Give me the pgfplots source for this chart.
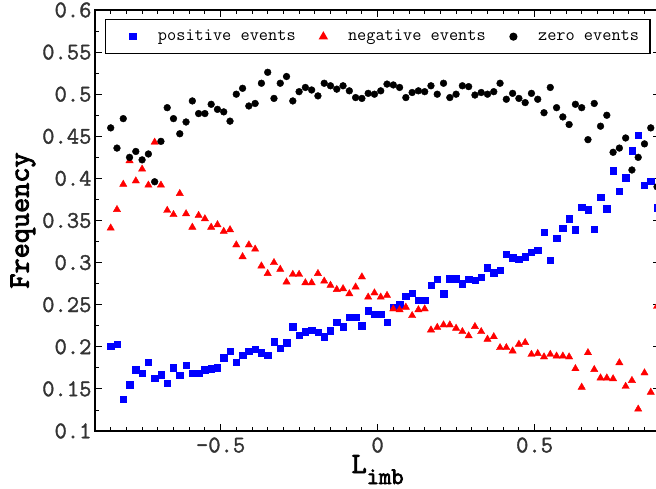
\documentclass[border=0pt]{standalone}
\usepackage{fontspec}
\setmainfont{Latin Modern Mono}
\newfontfamily\lmttbold{Latin Modern Mono}[FakeBold=3]
\newfontfamily\lmttmed{Latin Modern Mono}[FakeBold=1.5]
\usepackage{pgfplots}
\usepackage{pgfplotstable}
\pgfplotsset{compat=1.18}

\pgfplotstableread{
x     pos    neg    zero
-0.85 0.201 0.341 0.460
-0.83 0.203 0.363 0.436
-0.81 0.138 0.393 0.471
-0.79 0.155 0.421 0.425
-0.77 0.173 0.397 0.432
-0.75 0.169 0.411 0.422
-0.73 0.182 0.392 0.429
-0.71 0.163 0.443 0.396
-0.69 0.167 0.392 0.444
-0.67 0.157 0.362 0.484
-0.65 0.175 0.357 0.471
-0.63 0.166 0.382 0.453
-0.61 0.178 0.358 0.467
-0.59 0.169 0.342 0.492
-0.57 0.169 0.356 0.477
-0.55 0.173 0.352 0.477
-0.53 0.174 0.342 0.488
-0.51 0.175 0.345 0.482
-0.49 0.187 0.337 0.479
-0.47 0.195 0.339 0.468
-0.45 0.182 0.321 0.500
-0.43 0.190 0.307 0.507
-0.41 0.195 0.321 0.486
-0.39 0.197 0.316 0.489
-0.37 0.193 0.296 0.513
-0.35 0.190 0.287 0.526
-0.33 0.206 0.300 0.495
-0.31 0.198 0.292 0.513
-0.29 0.205 0.277 0.521
-0.27 0.224 0.286 0.492
-0.25 0.214 0.286 0.503
-0.23 0.218 0.276 0.508
-0.21 0.220 0.276 0.505
-0.19 0.217 0.287 0.498
-0.17 0.212 0.278 0.513
-0.15 0.219 0.273 0.510
-0.13 0.229 0.268 0.506
-0.11 0.224 0.269 0.510
-0.09 0.235 0.263 0.504
-0.07 0.235 0.271 0.496
-0.05 0.225 0.283 0.495
-0.03 0.243 0.259 0.501
-0.01 0.239 0.264 0.500
0.01 0.239 0.259 0.504
0.03 0.229 0.261 0.512
0.05 0.247 0.245 0.511
0.07 0.250 0.244 0.508
0.09 0.260 0.247 0.496
0.11 0.264 0.237 0.502
0.13 0.255 0.244 0.504
0.15 0.255 0.245 0.503
0.17 0.273 0.220 0.510
0.19 0.280 0.223 0.500
0.21 0.263 0.226 0.513
0.23 0.281 0.226 0.496
0.25 0.281 0.222 0.500
0.27 0.275 0.218 0.510
0.29 0.280 0.213 0.509
0.31 0.279 0.224 0.499
0.33 0.283 0.218 0.502
0.35 0.294 0.209 0.500
0.37 0.288 0.212 0.503
0.39 0.291 0.199 0.513
0.41 0.310 0.199 0.494
0.43 0.306 0.195 0.501
0.45 0.304 0.203 0.495
0.47 0.307 0.205 0.490
0.49 0.312 0.191 0.501
0.51 0.315 0.192 0.494
0.53 0.336 0.188 0.478
0.55 0.303 0.191 0.508
0.57 0.329 0.189 0.484
0.59 0.341 0.189 0.473
0.61 0.352 0.188 0.464
0.63 0.339 0.174 0.488
0.65 0.366 0.152 0.484
0.67 0.363 0.193 0.446
0.69 0.340 0.173 0.489
0.71 0.378 0.163 0.462
0.73 0.364 0.163 0.475
0.75 0.409 0.162 0.431
0.77 0.385 0.181 0.436
0.79 0.401 0.153 0.448
0.81 0.433 0.160 0.410
0.83 0.451 0.126 0.425
0.85 0.392 0.169 0.441
0.87 0.397 0.146 0.460
0.89 0.365 0.248 0.390
}\datatable

\begin{document}
\begin{tikzpicture}
\begin{axis}[
  scale only axis,
  width=565.2bp, height=421bp,
  xmin=-0.9, xmax=0.9, ymin=0.1, ymax=0.6,
  axis line style={line width=1.3bp, black},
  tick align=inside,
  major tick length=7bp, minor tick length=4bp,
  every tick/.style={black, line width=0.9bp},
  xtick={-0.5,0,0.5},
  xticklabels={-0.5,0,0.5},
  minor xtick={-0.85,-0.8,-0.75,-0.7,-0.65,-0.6,-0.55,-0.45,-0.4,-0.35,-0.3,-0.25,-0.2,-0.15,-0.1,-0.05,0.05,0.1,0.15,0.2,0.25,0.3,0.35,0.4,0.45,0.55,0.6,0.65,0.7,0.75,0.8,0.85},
  ytick={0.1,0.15,0.2,0.25,0.3,0.35,0.4,0.45,0.5,0.55,0.6},
  yticklabels={0.1,0.15,0.2,0.25,0.3,0.35,0.4,0.45,0.5,0.55,0.6},
  minor ytick={0.125,0.175,0.225,0.275,0.325,0.375,0.425,0.475,0.525,0.575},
  tick label style={font=\lmttmed\fontsize{24}{24}\selectfont, color=black!80},
  xticklabel style={yshift=-3bp},
  xlabel={\lmttbold\fontsize{29.5}{29.5}\selectfont L\raisebox{-11bp}{\fontsize{24}{24}\selectfont imb}},
  xlabel style={at={(axis description cs:0.5,0)}, anchor=base, yshift=-42bp},
  ylabel={\lmttbold\fontsize{29.5}{29.5}\selectfont Frequency},
  ylabel style={at={(axis description cs:-0.1274,0.5)}, anchor=center},
  legend columns=3,
  legend cell align=left,
  legend image code/.code={\path (-16bp,0bp) (12bp,0bp); \draw[#1] plot coordinates {(0bp,0bp)};},
  legend style={
    at={(axis description cs:0,1)}, anchor=north west, xshift=10bp, yshift=-9bp,
    draw=black, line width=1.3bp, inner xsep=11bp, inner ysep=10bp,
    font=\fontsize{17.9}{17.9}\selectfont,
    nodes={inner sep=0bp, text height=11bp, text depth=3bp},
    /tikz/every odd column/.append style={column sep=12bp},
    /tikz/every even column/.append style={column sep=11bp},
  },
]
\addplot[only marks, mark=square*, mark size=3.2bp, color=blue] table[x=x, y=pos] {\datatable};
\addlegendentry{positive events}
\addplot[only marks, mark=triangle*, mark size=4.2bp, color=red] table[x=x, y=neg] {\datatable};
\addlegendentry{negative events}
\addplot[only marks, mark=*, mark size=3.4bp, color=black] table[x=x, y=zero] {\datatable};
\addlegendentry{zero events}
\end{axis}
\pgfresetboundingbox
\path[use as bounding box] (-95bp,-58bp) rectangle (561bp,431bp);
\end{tikzpicture}
\end{document}
